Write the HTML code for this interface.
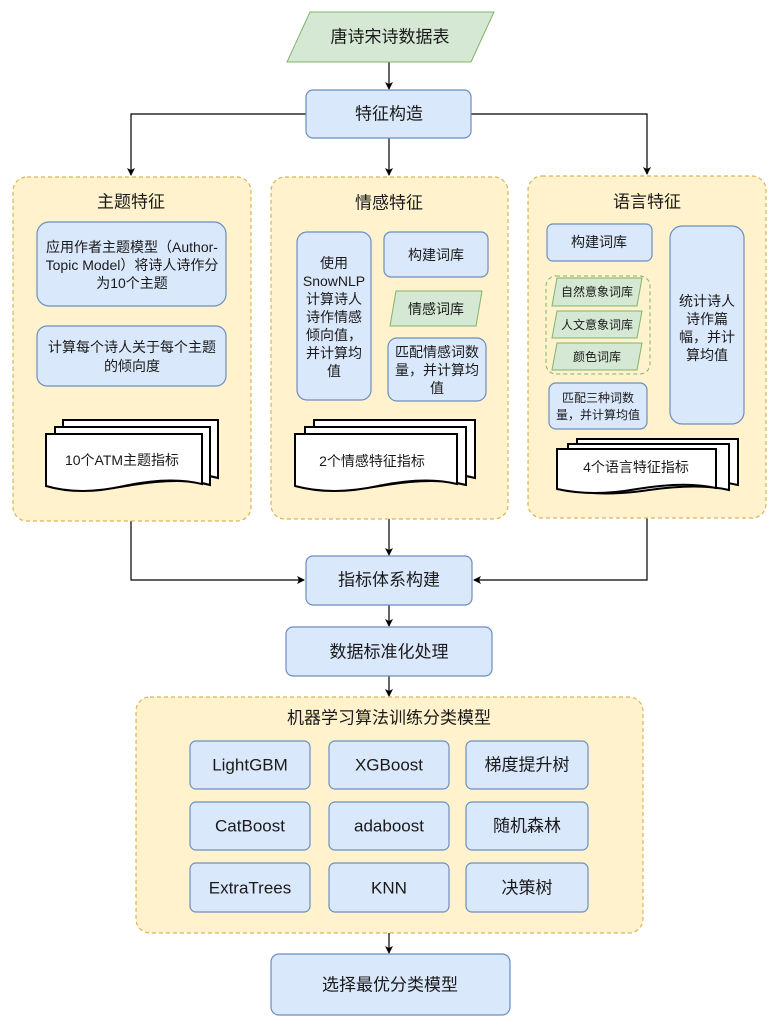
<!DOCTYPE html>
<html><head><meta charset="utf-8"><style>
body{margin:0;background:#fff}
svg text{font-family:"Liberation Sans","Noto Sans CJK SC",sans-serif;fill:#1a1a1a;text-anchor:middle;dominant-baseline:central}
</style></head><body>
<svg width="779" height="1029" viewBox="0 0 779 1029" xmlns="http://www.w3.org/2000/svg">
<defs><marker id="a" markerWidth="8" markerHeight="8" refX="7" refY="4" orient="auto" markerUnits="userSpaceOnUse"><path d="M0,0 L8,4 L0,8 L2,4 Z" fill="#000"/></marker></defs>
<g stroke="#000" stroke-width="1.2" fill="none" marker-end="url(#a)">
<path d="M389,62 V89"/>
<path d="M306,114 H131 V175"/><path d="M389,138 V175"/><path d="M471,114 H647 V174"/>
<path d="M132,306 V325"/><path d="M132,386 V420"/>
<path d="M334,400 V421"/><path d="M435,277 V290"/><path d="M435,326 V337"/><path d="M435,401 V422"/>
<path d="M598,261 V275"/><path d="M598,374 V382"/><path d="M598,429 V439"/><path d="M707,424 V437"/>
<path d="M131,521 V580 H304"/><path d="M389,519 V555"/><path d="M647,518 V580 H474"/>
<path d="M389,605 V626"/><path d="M389,676 V696"/><path d="M389,933 V953"/>
</g>
<polygon points="310,12 494,12 471,62 287,62" fill="#d5e8d4" stroke="#82b366"/>
<text x="390" y="37" font-size="17">唐诗宋诗数据表</text>
<g fill="#dae8fc" stroke="#6c8ebf" stroke-width="1.2">
<rect x="306" y="90" width="165" height="48" rx="7"/>
</g>
<text x="389" y="114" font-size="17">特征构造</text>
<g fill="#fff2cc" stroke="#d6b656" stroke-dasharray="4 3" stroke-width="1.2">
<rect x="13" y="177" width="238" height="344" rx="14"/>
<rect x="271" y="177" width="237" height="342" rx="14"/>
<rect x="528" y="176" width="238" height="342" rx="14"/>
<rect x="136" y="697" width="507" height="236" rx="14"/>
</g>
<text x="131" y="202" font-size="17">主题特征</text>
<text x="389" y="203" font-size="17">情感特征</text>
<text x="647" y="202" font-size="17">语言特征</text>
<g fill="#dae8fc" stroke="#6c8ebf" stroke-width="1.2">
<rect x="37" y="222" width="189" height="84" rx="12"/>
<rect x="37" y="326" width="189" height="60" rx="10"/>
<rect x="297" y="232" width="74" height="168" rx="10"/>
<rect x="384" y="232" width="104" height="45" rx="7"/>
<rect x="388" y="338" width="98" height="63" rx="9"/>
<rect x="547" y="224" width="105" height="37" rx="6"/>
<rect x="549" y="383" width="98" height="46" rx="7"/>
<rect x="670" y="226" width="74" height="198" rx="12"/>
<rect x="306" y="556" width="166" height="49" rx="7"/>
<rect x="286" y="627" width="206" height="49" rx="7"/>
<rect x="271" y="954" width="239" height="61" rx="8"/>
<rect x="190" y="741" width="120" height="48" rx="6"/><rect x="329" y="741" width="120" height="48" rx="6"/><rect x="466" y="741" width="122" height="48" rx="6"/>
<rect x="190" y="802" width="120" height="48" rx="6"/><rect x="329" y="802" width="120" height="48" rx="6"/><rect x="466" y="802" width="122" height="48" rx="6"/>
<rect x="190" y="863" width="120" height="49" rx="6"/><rect x="329" y="863" width="120" height="49" rx="6"/><rect x="466" y="863" width="122" height="49" rx="6"/>
</g>
<rect x="546" y="276" width="104" height="98" rx="10" fill="none" stroke="#82b366" stroke-dasharray="4 3"/>
<g fill="#d5e8d4" stroke="#82b366">
<polygon points="396,291 482,291 476,326 390,326"/>
<polygon points="557,278 642,278 637,306 552,306"/>
<polygon points="557,311 642,311 637,338 552,338"/>
<polygon points="557,343 642,343 637,370 552,370"/>
</g>
<g fill="#fff" stroke="#000" stroke-width="2">
<path d="M63,420 H218 V478 Q190,470 140,478 Q100,486 63,478 Z"/>
<path d="M55,427 H210 V485 Q182,477 132,485 Q92,493 55,485 Z"/>
<path d="M46,434 H202 V484 Q170,476 124,486 Q80,496 46,486 Z"/>
<path d="M314,420 H475 V478 Q445,470 395,478 Q350,486 314,478 Z"/>
<path d="M305,427 H466 V485 Q436,477 386,485 Q341,493 305,485 Z"/>
<path d="M295,434 H457 V484 Q425,476 378,486 Q332,496 295,486 Z"/>
<path d="M577,439 H738 V485 Q708,478 658,485 Q613,492 577,485 Z"/>
<path d="M568,444 H729 V490 Q699,483 649,490 Q604,497 568,490 Z"/>
<path d="M557,449 H716 V488 Q685,481 637,489 Q593,497 557,489 Z"/>
</g>
<g font-size="14">
<text x="132" y="247">应用作者主题模型（Author-</text>
<text x="132" y="265">Topic Model）将诗人诗作分</text>
<text x="132" y="283">为10个主题</text>
<text x="132" y="347">计算每个诗人关于每个主题</text>
<text x="132" y="366">的倾向度</text>
<text x="122" y="460">10个ATM主题指标</text>
<text x="334" y="263">使用</text><text x="334" y="281">SnowNLP</text><text x="334" y="299">计算诗人</text><text x="334" y="317">诗作情感</text><text x="334" y="335">倾向值，</text><text x="334" y="353">并计算均</text><text x="334" y="371">值</text>
<text x="436" y="255">构建词库</text>
<text x="436" y="309">情感词库</text>
<text x="437" y="352">匹配情感词数</text><text x="437" y="370">量，并计算均</text><text x="437" y="388">值</text>
<text x="372" y="461">2个情感特征指标</text>
<text x="599" y="242">构建词库</text>
<text x="707" y="301">统计诗人</text><text x="707" y="319">诗作篇</text><text x="707" y="337">幅，并计</text><text x="707" y="355">算均值</text>
<text x="636" y="467">4个语言特征指标</text>
</g>
<g font-size="12">
<text x="597" y="292">自然意象词库</text><text x="597" y="325">人文意象词库</text><text x="597" y="357">颜色词库</text>
<text x="598" y="398">匹配三种词数</text><text x="598" y="415">量，并计算均值</text>
</g>
<g font-size="17">
<text x="389" y="580">指标体系构建</text>
<text x="389" y="652">数据标准化处理</text>
<text x="389" y="718">机器学习算法训练分类模型</text>
<text x="390" y="985">选择最优分类模型</text>
<text x="250" y="765">LightGBM</text><text x="389" y="765">XGBoost</text><text x="527" y="765">梯度提升树</text>
<text x="250" y="826">CatBoost</text><text x="389" y="826">adaboost</text><text x="527" y="826">随机森林</text>
<text x="250" y="888">ExtraTrees</text><text x="389" y="888">KNN</text><text x="527" y="888">决策树</text>
</g>
</svg>
</body></html>
